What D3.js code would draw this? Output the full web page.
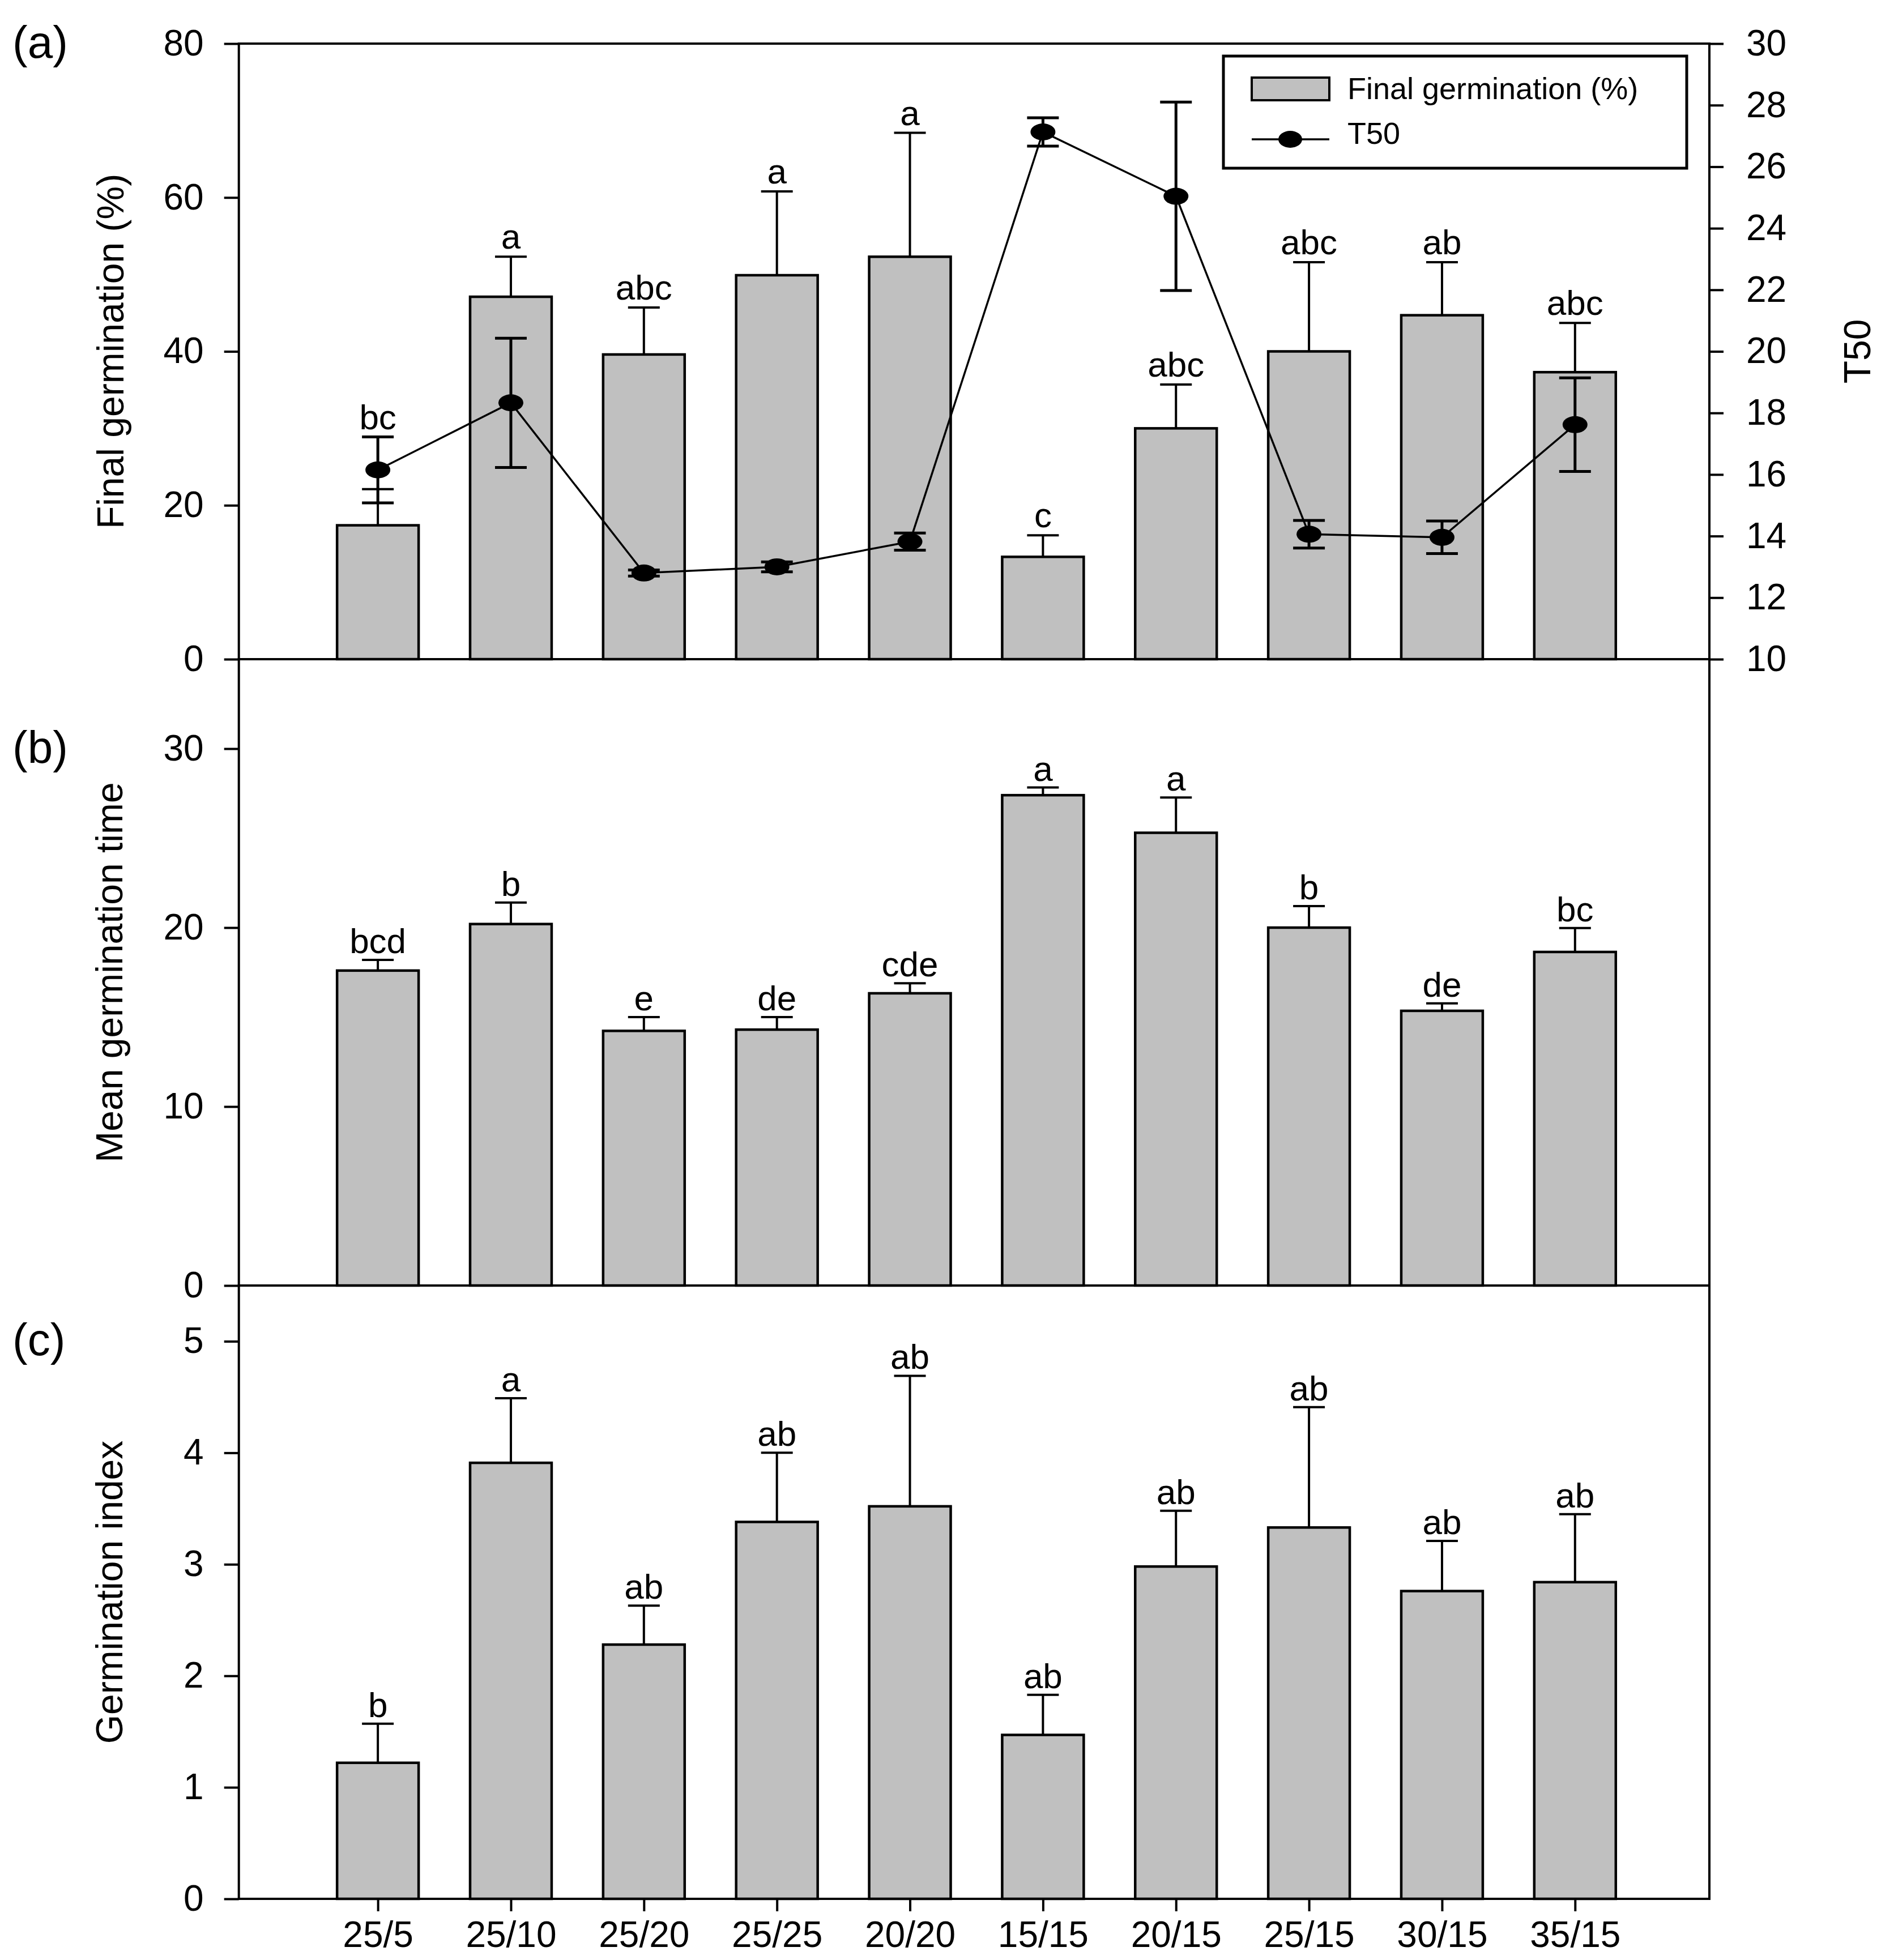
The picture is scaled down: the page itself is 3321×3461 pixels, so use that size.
<!DOCTYPE html>
<html><head><meta charset="utf-8">
<script src="https://cdn.jsdelivr.net/npm/d3@7"></script>
<style>html,body{margin:0;padding:0;background:#fff;} svg{display:block;font-family:"Liberation Sans",Arial,Helvetica,sans-serif;}</style>
</head><body>
<svg id="chart" width="3321" height="3461"></svg>
<script>
// ---- data ----
const categories = ["25/5","25/10","25/20","25/25","20/20","15/15","20/15","25/15","30/15","35/15"];

const finalGermination    = [17.4, 47.1, 39.6, 49.9, 52.3, 13.3, 30.0, 40.0, 44.7, 37.3];
const finalGerminationErr = [4.7, 5.2, 6.1, 10.9, 16.1, 2.8, 5.7, 11.6, 6.9, 6.4];
const finalGerminationLetters = ["bc","a","abc","a","a","c","abc","abc","ab","abc"];

const t50    = [16.15, 18.33, 12.8, 13.0, 13.82, 27.13, 25.04, 14.06, 13.96, 17.62];
const t50Err = [1.07, 2.1, 0.1, 0.16, 0.28, 0.46, 3.06, 0.45, 0.53, 1.52];

const meanGermTime    = [17.6, 20.2, 14.23, 14.3, 16.33, 27.4, 25.3, 20.0, 15.35, 18.64];
const meanGermTimeErr = [0.6, 1.2, 0.77, 0.7, 0.56, 0.43, 1.97, 1.2, 0.42, 1.34];
const meanGermTimeLetters = ["bcd","b","e","de","cde","a","a","b","de","bc"];

const germIndex    = [1.22, 3.91, 2.28, 3.38, 3.52, 1.47, 2.98, 3.33, 2.76, 2.84];
const germIndexErr = [0.35, 0.58, 0.35, 0.62, 1.17, 0.36, 0.5, 1.08, 0.45, 0.61];
const germIndexLetters = ["b","a","ab","ab","ab","ab","ab","ab","ab","ab"];

const ticksA  = [0, 20, 40, 60, 80];
const ticksT50 = [10, 12, 14, 16, 18, 20, 22, 24, 26, 28, 30];
const ticksB  = [0, 10, 20, 30];
const ticksC  = [0, 1, 2, 3, 4, 5];

// ---- layout ----
const svg = d3.select("#chart");
const X0 = 421.7, X1 = 3018;
const x = d3.scaleLinear().domain([-1.045, 10.01]).range([X0, X1]);
const step = x(1) - x(0);
const barW = step * 0.613;
const capW = 56;
const FILL = "#c0c0c0";
const tickFont = 64, letterFont = 62, titleFont = 66;

const panels = [
  {top: 77,   bottom: 1164},
  {top: 1164, bottom: 2270},
  {top: 2270, bottom: 3353}
];
const yA = d3.scaleLinear().domain([0, 80]).range([panels[0].bottom, panels[0].top]);
const yT = d3.scaleLinear().domain([10, 30]).range([panels[0].bottom, panels[0].top]);
const yB = d3.scaleLinear().domain([0, 35]).range([panels[1].bottom, panels[1].top]);
const yC = d3.scaleLinear().domain([0, 5.5]).range([panels[2].bottom, panels[2].top]);

function leftAxis(scale, ticks) {
  const g = svg.append("g").attr("transform", `translate(${X0},0)`)
    .call(d3.axisLeft(scale).tickValues(ticks).tickSize(26).tickPadding(36).tickFormat(d3.format("d")));
  g.select(".domain").remove();
  g.selectAll(".tick line").attr("stroke", "#000").attr("stroke-width", 4);
  g.selectAll(".tick text").attr("font-size", tickFont).attr("fill", "#000")
    .attr("font-family", '"Liberation Sans",Arial,sans-serif');
  return g;
}

function drawBars(scale, values, errs, letters, labelTopFn) {
  const g = svg.append("g");
  const idx = d3.range(values.length);
  // error bars (upper only)
  g.selectAll("line.ev").data(idx).join("line")
    .attr("x1", i => x(i)).attr("x2", i => x(i))
    .attr("y1", i => scale(values[i])).attr("y2", i => scale(values[i] + errs[i]))
    .attr("stroke", "#000").attr("stroke-width", 4);
  g.selectAll("line.ec").data(idx).join("line")
    .attr("x1", i => x(i) - capW / 2).attr("x2", i => x(i) + capW / 2)
    .attr("y1", i => scale(values[i] + errs[i])).attr("y2", i => scale(values[i] + errs[i]))
    .attr("stroke", "#000").attr("stroke-width", 4);
  g.selectAll("rect").data(idx).join("rect")
    .attr("x", i => x(i) - barW / 2).attr("width", barW)
    .attr("y", i => scale(values[i])).attr("height", i => scale(0) - scale(values[i]))
    .attr("fill", FILL).attr("stroke", "#000").attr("stroke-width", 4.5);
  const lg = svg.append("g");
  lg.selectAll("text").data(idx).join("text")
    .attr("x", i => x(i))
    .attr("y", i => labelTopFn ? labelTopFn(i) : scale(values[i] + errs[i]) - 12)
    .attr("text-anchor", "middle").attr("font-size", letterFont).attr("fill", "#000")
    .text(i => letters[i]);
  return lg;
}

// ---- panel (a) ----
drawBars(yA, finalGermination, finalGerminationErr, finalGerminationLetters, i => {
  let base = yA(finalGermination[i] + finalGerminationErr[i]);
  const tTop = yT(t50[i] + t50Err[i]), tBot = yT(t50[i] - t50Err[i]);
  if (tBot > base - 80 && tTop < base) base = Math.min(base, tTop);
  return base - 14;
});

// T50 line + errors + points
const ia = d3.range(t50.length);
const gT = svg.append("g");
gT.append("path").datum(ia)
  .attr("d", d3.line().x(i => x(i)).y(i => yT(t50[i])))
  .attr("fill", "none").attr("stroke", "#000").attr("stroke-width", 3.5);
gT.selectAll("line.tv").data(ia).join("line")
  .attr("x1", i => x(i)).attr("x2", i => x(i))
  .attr("y1", i => yT(t50[i] - t50Err[i])).attr("y2", i => yT(t50[i] + t50Err[i]))
  .attr("stroke", "#000").attr("stroke-width", 5);
[-1, 1].forEach(s => {
  gT.selectAll(null).data(ia).join("line")
    .attr("x1", i => x(i) - capW / 2).attr("x2", i => x(i) + capW / 2)
    .attr("y1", i => yT(t50[i] + s * t50Err[i])).attr("y2", i => yT(t50[i] + s * t50Err[i]))
    .attr("stroke", "#000").attr("stroke-width", 5);
});
gT.selectAll("ellipse").data(ia).join("ellipse")
  .attr("cx", i => x(i)).attr("cy", i => yT(t50[i]))
  .attr("rx", 22).attr("ry", 15).attr("fill", "#000");

// ---- panel (b), (c) ----
drawBars(yB, meanGermTime, meanGermTimeErr, meanGermTimeLetters, i => yB(meanGermTime[i] + meanGermTimeErr[i]) - 12);
drawBars(yC, germIndex, germIndexErr, germIndexLetters, i => yC(germIndex[i] + germIndexErr[i]) - 12);

// ---- frames ----
panels.forEach(p => {
  svg.append("rect").attr("x", X0).attr("y", p.top).attr("width", X1 - X0).attr("height", p.bottom - p.top)
    .attr("fill", "none").attr("stroke", "#000").attr("stroke-width", 4);
});

// ---- axes ----
leftAxis(yA, ticksA);
leftAxis(yB, ticksB);
leftAxis(yC, ticksC);

const gR = svg.append("g").attr("transform", `translate(${X1},0)`)
  .call(d3.axisRight(yT).tickValues(ticksT50).tickSize(25).tickPadding(40).tickFormat(d3.format("d")));
gR.select(".domain").remove();
gR.selectAll(".tick line").attr("stroke", "#000").attr("stroke-width", 4);
gR.selectAll(".tick text").attr("font-size", tickFont).attr("fill", "#000")
  .attr("font-family", '"Liberation Sans",Arial,sans-serif');

const xb = d3.scaleOrdinal().domain(categories).range(categories.map((c, i) => x(i)));
const gB = svg.append("g").attr("transform", `translate(0,${panels[2].bottom})`)
  .call(d3.axisBottom(xb).tickSize(22).tickPadding(0));
gB.select(".domain").remove();
gB.selectAll(".tick line").attr("stroke", "#000").attr("stroke-width", 4);
gB.selectAll(".tick text").attr("font-size", tickFont).attr("fill", "#000")
  .attr("font-family", '"Liberation Sans",Arial,sans-serif')
  .attr("dy", null).attr("y", 85);

// ---- titles ----
function vTitle(txt, cx, cy, rot) {
  svg.append("text").attr("transform", `translate(${cx},${cy}) rotate(${rot})`)
    .attr("text-anchor", "middle").attr("font-size", titleFont).attr("fill", "#000").text(txt);
}
vTitle("Final germination (%)", 218, (panels[0].top + panels[0].bottom) / 2, -90);
vTitle("Mean germination time", 216, (panels[1].top + panels[1].bottom) / 2, -90);
vTitle("Germination index", 216, (panels[2].top + panels[2].bottom) / 2, -90);
vTitle("T50", 3302, (panels[0].top + panels[0].bottom) / 2, -90);

const panelLabels = ["(a)", "(b)", "(c)"];
const panelTopTick = [yA(80), yB(30), yC(5)];
panelLabels.forEach((t, i) => {
  svg.append("text").attr("x", 22).attr("y", panelTopTick[i] + 25)
    .attr("font-size", 80).attr("fill", "#000").text(t);
});

// ---- legend ----
const lg = svg.append("g");
lg.append("rect").attr("x", 2160).attr("y", 99).attr("width", 818).attr("height", 198)
  .attr("fill", "#fff").attr("stroke", "#000").attr("stroke-width", 5);
lg.append("rect").attr("x", 2210).attr("y", 137).attr("width", 137).attr("height", 40)
  .attr("fill", FILL).attr("stroke", "#000").attr("stroke-width", 4);
lg.append("line").attr("x1", 2210).attr("x2", 2347).attr("y1", 246).attr("y2", 246)
  .attr("stroke", "#000").attr("stroke-width", 3.5);
lg.append("ellipse").attr("cx", 2278).attr("cy", 246).attr("rx", 21).attr("ry", 15).attr("fill", "#000");
lg.append("text").attr("x", 2379).attr("y", 175).attr("font-size", 54).attr("fill", "#000").text("Final germination (%)");
lg.append("text").attr("x", 2379).attr("y", 254).attr("font-size", 54).attr("fill", "#000").text("T50");
</script>
</body></html>
